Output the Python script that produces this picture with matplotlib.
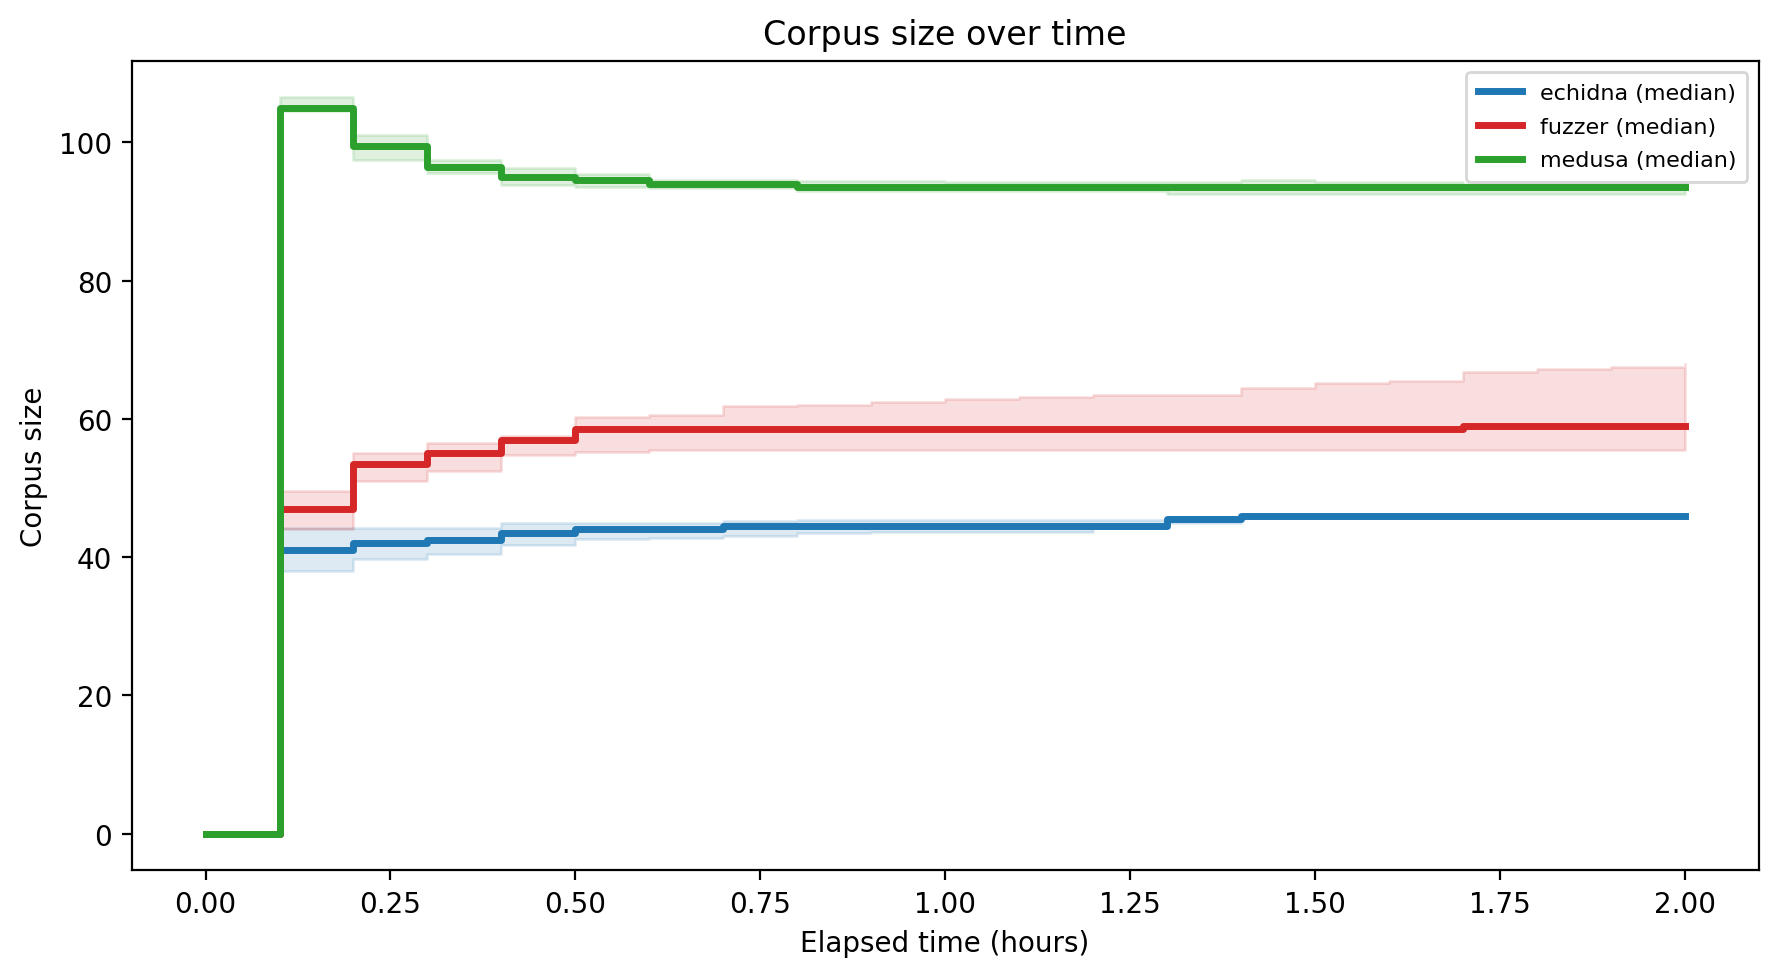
import numpy as np
import matplotlib
matplotlib.use("Agg")
import matplotlib.pyplot as plt

# elapsed time in hours, one sample every 6 minutes
hours = [0.0, 0.1, 0.2, 0.3, 0.4, 0.5, 0.6, 0.7, 0.8, 0.9, 1.0,
         1.1, 1.2, 1.3, 1.4, 1.5, 1.6, 1.7, 1.8, 1.9, 2.0]

echidna_med = [0, 41, 42, 42.5, 43.5, 44, 44, 44.5, 44.5, 44.5, 44.5,
               44.5, 44.5, 45.5, 46, 46, 46, 46, 46, 46, 46]
echidna_lo = [0, 38, 39.7, 40.4, 41.8, 42.6, 42.8, 43.1, 43.5, 43.7, 43.7,
              43.7, 44.5, 45, 46, 46, 46, 46, 46, 46, 46]
echidna_hi = [0, 44.2, 44.2, 44.2, 45, 45, 45, 45.2, 45.3, 45.3, 45.3,
              45.3, 45.3, 45.5, 46, 46, 46, 46, 46, 46, 46]

fuzzer_med = [0, 47, 53.5, 55, 57, 58.5, 58.5, 58.5, 58.5, 58.5, 58.5,
              58.5, 58.5, 58.5, 58.5, 58.5, 58.5, 59, 59, 59, 59]
fuzzer_lo = [0, 44, 51, 52.4, 54.8, 55.2, 55.5, 55.5, 55.5, 55.5, 55.5,
             55.5, 55.5, 55.5, 55.5, 55.5, 55.5, 55.5, 55.5, 55.5, 55.5]
fuzzer_hi = [0, 49.6, 55.1, 56.5, 57.5, 60.2, 60.6, 61.8, 62.0, 62.4, 62.8,
             63.1, 63.5, 63.5, 64.5, 65.2, 65.5, 66.8, 67.2, 67.5, 68.0]

medusa_med = [0, 105, 99.5, 96.5, 95, 94.5, 94, 94, 93.5, 93.5, 93.5,
              93.5, 93.5, 93.5, 93.5, 93.5, 93.5, 93.5, 93.5, 93.5, 93.5]
medusa_lo = [0, 104.6, 97.5, 95.6, 93.8, 93.6, 93.4, 93.4, 92.9, 93.0, 93.0,
             93.0, 93.0, 92.5, 92.5, 92.5, 92.5, 92.5, 92.5, 92.5, 92.5]
medusa_hi = [0, 106.5, 101, 97.4, 96.3, 95.4, 94.6, 94.6, 94.4, 94.4, 94.2,
             94.2, 94.2, 94.2, 94.6, 94.3, 94.3, 94.0, 94.0, 94.0, 94.0]

series = [
    ("echidna", "tab:blue", echidna_med, echidna_lo, echidna_hi),
    ("fuzzer", "tab:red", fuzzer_med, fuzzer_lo, fuzzer_hi),
    ("medusa", "tab:green", medusa_med, medusa_lo, medusa_hi),
]

fig, ax = plt.subplots(figsize=(1779 / 200, 978 / 200), dpi=200)
fig.subplots_adjust(left=0.074, right=0.9885, top=0.937, bottom=0.109)

t = np.array(hours)
for name, col, med, lo, hi in series:
    ax.fill_between(t, lo, hi, step="post", color=col, alpha=0.15)
    ax.plot(t, med, drawstyle="steps-post", color=col, lw=2.5,
            label=name + " (median)")

ax.set_title("Corpus size over time")
ax.set_xlabel("Elapsed time (hours)")
ax.set_ylabel("Corpus size")
ax.legend(loc="upper right", fontsize=8, labelspacing=0.62, borderpad=0.5)

plt.savefig("out.png", dpi=200)
